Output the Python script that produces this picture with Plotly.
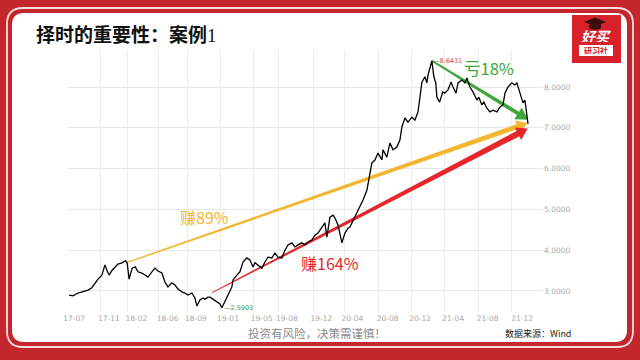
import plotly.graph_objects as go
import pandas as pd
import numpy as np

# ---------------- data ----------------
dates = [
    "2017-06-13", "2017-06-27", "2017-07-15", "2017-08-02", "2017-08-20", "2017-09-03", "2017-09-14",
    "2017-09-25", "2017-10-09", "2017-10-20", "2017-10-27", "2017-11-04", "2017-11-15", "2017-11-25",
    "2017-12-06", "2017-12-20", "2018-01-02", "2018-01-08", "2018-01-15", "2018-01-26", "2018-02-06",
    "2018-02-16", "2018-03-02", "2018-03-13", "2018-03-24", "2018-04-07", "2018-04-18", "2018-04-29",
    "2018-05-13", "2018-05-24", "2018-06-04", "2018-06-18", "2018-06-29", "2018-07-10", "2018-07-24",
    "2018-08-04", "2018-08-15", "2018-08-29", "2018-09-09", "2018-09-16", "2018-09-27", "2018-10-08",
    "2018-10-15", "2018-10-26", "2018-11-02", "2018-11-13", "2018-11-27", "2018-12-08", "2018-12-15",
    "2018-12-26", "2019-01-06", "2019-01-20", "2019-01-24", "2019-02-07", "2019-02-18", "2019-03-01",
    "2019-03-15", "2019-03-26", "2019-04-06", "2019-04-13", "2019-04-24", "2019-05-08", "2019-05-19",
    "2019-05-30", "2019-06-13", "2019-06-24", "2019-07-05", "2019-07-19", "2019-07-30", "2019-08-10",
    "2019-08-24", "2019-09-04", "2019-09-15", "2019-09-29", "2019-10-10", "2019-10-21", "2019-11-04",
    "2019-11-15", "2019-11-26", "2019-12-10", "2019-12-21", "2019-12-28", "2020-01-08", "2020-01-19",
    "2020-01-26", "2020-02-06", "2020-02-20", "2020-03-02", "2020-03-13", "2020-03-20", "2020-04-07",
    "2020-04-25", "2020-05-06", "2020-05-20", "2020-05-31", "2020-06-07", "2020-06-18", "2020-06-29",
    "2020-07-06", "2020-07-13", "2020-07-17", "2020-07-31", "2020-08-11", "2020-08-22", "2020-09-05",
    "2020-09-16", "2020-09-23", "2020-10-04", "2020-10-15", "2020-10-29", "2020-11-09", "2020-11-20",
    "2020-11-27", "2020-12-04", "2020-12-15", "2020-12-22", "2020-12-26", "2021-01-02", "2021-01-09",
    "2021-01-16", "2021-01-23", "2021-01-27", "2021-02-06", "2021-02-17", "2021-02-24", "2021-03-08",
    "2021-03-19", "2021-03-26", "2021-04-06", "2021-04-13", "2021-04-27", "2021-05-08", "2021-05-15",
    "2021-05-26", "2021-06-06", "2021-06-20", "2021-06-27", "2021-07-08", "2021-07-15", "2021-07-26",
    "2021-08-06", "2021-08-17", "2021-08-31", "2021-09-11", "2021-09-22", "2021-09-29", "2021-10-10",
    "2021-10-24", "2021-11-04", "2021-11-11", "2021-11-22", "2021-12-03", "2021-12-10", "2021-12-17",
    "2021-12-21",
]
nav = [
    2.90, 2.88, 2.95, 2.98, 3.02, 3.08, 3.20,
    3.29, 3.39, 3.64, 3.51, 3.39, 3.51, 3.59,
    3.66, 3.69, 3.74, 3.69, 3.29, 3.56, 3.59,
    3.47, 3.44, 3.39, 3.34, 3.47, 3.56, 3.49,
    3.44, 3.22, 3.10, 3.20, 3.15, 3.05, 2.98,
    2.95, 2.90, 2.95, 2.83, 2.63, 2.78, 2.83,
    2.80, 2.85, 2.85, 2.80, 2.72, 2.68, 2.5903,
    2.73, 2.90, 3.10, 3.27, 3.39, 3.47, 3.71,
    3.81, 3.76, 3.59, 3.69, 3.64, 3.56, 3.71,
    3.83, 3.81, 3.93, 3.83, 3.81, 4.00, 4.13,
    4.18, 4.08, 4.13, 4.18, 4.13, 4.20, 4.25,
    4.37, 4.42, 4.57, 4.67, 4.32, 4.81, 4.86,
    4.79, 4.62, 4.18, 4.42, 4.54, 4.57, 4.81,
    5.06, 5.23, 5.47, 5.89, 6.14, 6.21, 6.38,
    6.30, 6.21, 6.46, 6.28, 6.63, 6.46, 6.53,
    6.70, 7.02, 7.24, 7.14, 7.26, 7.19, 7.39,
    7.75, 8.12, 8.25, 8.10, 8.29, 8.49, 8.6431,
    8.25, 8.10, 7.75, 7.63, 7.88, 7.85, 7.93,
    8.12, 8.00, 7.85, 8.10, 8.17, 8.10, 8.22,
    8.00, 7.88, 7.68, 7.75, 7.56, 7.63, 7.48,
    7.39, 7.43, 7.39, 7.51, 7.56, 7.85, 8.00,
    8.10, 8.05, 8.10, 7.85, 7.61, 7.68, 7.31,
    7.10,
]

tick_dates = ["2017-07-01", "2017-11-03", "2018-02-10", "2018-06-03", "2018-09-12", "2019-01-06",
              "2019-05-07", "2019-08-06", "2019-12-08", "2020-03-29", "2020-08-03", "2020-11-28",
              "2021-03-26", "2021-07-29", "2021-11-30"]
tick_text = ["17-07", "17-11", "18-02", "18-06", "18-09", "19-01", "19-05", "19-08", "19-12",
             "20-04", "20-08", "20-12", "21-04", "21-08", "21-12"]
grid_dates = ["2017-10-03", "2018-01-10", "2018-04-29", "2018-08-12", "2018-12-09", "2019-04-06",
              "2019-07-05", "2019-11-08", "2020-03-02", "2020-06-29", "2020-10-29", "2021-02-24",
              "2021-06-24", "2021-10-24", "2022-02-13"]
y_ticks = [3, 4, 5, 6, 7, 8]

# arrows: (start date, start value, end date, end value)
arrow_names = ["yellow", "red", "green"]
arrow_start_dates = ["2018-01-08", "2018-11-10", "2021-01-09"]
arrow_start_vals = [3.70, 2.96, 8.6431]
arrow_end_dates = ["2021-12-20", "2021-12-20", "2021-12-22"]
arrow_end_vals = [7.12, 6.98, 7.20]

gain_labels = ["赚89%", "赚164%", "亏18%"]
gain_label_dates = ["2018-10-12", "2020-01-08", "2021-08-04"]
gain_label_vals = [4.81, 3.69, 8.47]
gain_label_sizes = [16, 16, 16.5]

# ---------------- layout geometry ----------------
W, H = 640, 360
ML, MR, MT, MB = 68, 97, 50, 48
PW, PH = W - ML - MR, H - MT - MB
XRANGE = ["2017-06-09", "2022-02-13"]
YRANGE = [2.485, 8.907]

RED_BG = "#c3262c"
YELLOW = "#f3b631"
RED = "#e6262b"
GREEN = "#3ea63a"

x0 = pd.Timestamp(XRANGE[0])
x1 = pd.Timestamp(XRANGE[1])
ms_per_px = (x1 - x0).total_seconds() * 1000 / PW
val_per_px = (YRANGE[1] - YRANGE[0]) / PH


def to_px(d, v):
    return np.array([(pd.Timestamp(d) - x0).total_seconds() * 1000 / ms_per_px,
                     (v - YRANGE[0]) / val_per_px])


def from_px(p):
    return x0 + pd.Timedelta(milliseconds=float(p[0] * ms_per_px)), YRANGE[0] + p[1] * val_per_px


def px_x(px):
    return (px - ML) / PW


def px_y(py):
    return (H - MB - py) / PH


fig = go.Figure()

# tapered arrows
arrow_style = {"yellow": (YELLOW, 1.3, 5.0, 11, 6.5),
               "red": (RED, 1.0, 6.0, 11, 7.0),
               "green": (GREEN, 2.0, 4.0, 12, 7.0)}
for name, sd, sv, ed, ev in zip(arrow_names, arrow_start_dates, arrow_start_vals,
                                arrow_end_dates, arrow_end_vals):
    col, w0, w1, hl, hw = arrow_style[name]
    S = to_px(sd, sv)
    E = to_px(ed, ev)
    u = (E - S) / np.linalg.norm(E - S)
    n = np.array([-u[1], u[0]])
    B = E - u * hl
    pts = [S + n * w0 / 2, B + n * w1 / 2, B + n * hw, E, B - n * hw, B - n * w1 / 2, S - n * w0 / 2]
    conv = [from_px(p) for p in pts]
    fig.add_trace(go.Scatter(x=[c[0] for c in conv] + [conv[0][0]],
                             y=[c[1] for c in conv] + [conv[0][1]],
                             mode="lines", fill="toself", fillcolor=col,
                             line=dict(width=0, color=col), hoverinfo="skip", showlegend=False))

# price line
fig.add_trace(go.Scatter(x=dates, y=nav, mode="lines", line=dict(color="#000000", width=1.3),
                         showlegend=False, hoverinfo="skip"))

# invisible trace on grid axis
fig.add_trace(go.Scatter(x=[XRANGE[0]], y=[YRANGE[0]], xaxis="x2", mode="markers",
                         marker=dict(opacity=0), showlegend=False, hoverinfo="skip"))

# ---------------- frame shapes ----------------
def rr_path(ax0, ay0, ax1, ay1, r):
    def P(px, py):
        return f"{px_x(px):.5f},{px_y(py):.5f}"
    return (f"M {P(ax0 + r, ay0)} L {P(ax1 - r, ay0)} Q {P(ax1, ay0)} {P(ax1, ay0 + r)} "
            f"L {P(ax1, ay1 - r)} Q {P(ax1, ay1)} {P(ax1 - r, ay1)} "
            f"L {P(ax0 + r, ay1)} Q {P(ax0, ay1)} {P(ax0, ay1 - r)} "
            f"L {P(ax0, ay0 + r)} Q {P(ax0, ay0)} {P(ax0 + r, ay0)} Z")


shapes = [
    dict(type="path", xref="paper", yref="paper", layer="below",
         path=rr_path(7, 8, 633, 347, 16), line=dict(color="#f6dcdc", width=1.8),
         fillcolor="rgba(0,0,0,0)"),
    dict(type="path", xref="paper", yref="paper", layer="below",
         path=rr_path(12, 13, 627, 342, 12), line=dict(color="#ffffff", width=0),
         fillcolor="#ffffff"),
    # logo square
    dict(type="rect", xref="paper", yref="paper", layer="above",
         x0=px_x(572), x1=px_x(621), y0=px_y(63), y1=px_y(15),
         fillcolor="#d8222b", line=dict(width=0)),
    dict(type="rect", xref="paper", yref="paper", layer="above",
         x0=px_x(579), x1=px_x(613), y0=px_y(56), y1=px_y(45),
         fillcolor="#ffffff", line=dict(width=0)),
    # graduation cap
    dict(type="path", xref="paper", yref="paper", layer="above",
         path=(f"M {px_x(584)},{px_y(22)} L {px_x(595)},{px_y(17.5)} L {px_x(606)},{px_y(22)} "
               f"L {px_x(595)},{px_y(26.5)} Z"),
         fillcolor="#3a0d0d", line=dict(width=0)),
    dict(type="path", xref="paper", yref="paper", layer="above",
         path=(f"M {px_x(589)},{px_y(24)} L {px_x(589)},{px_y(28.5)} Q {px_x(595)},{px_y(31)} "
               f"{px_x(601)},{px_y(28.5)} L {px_x(601)},{px_y(24)} L {px_x(595)},{px_y(26.5)} Z"),
         fillcolor="#3a0d0d", line=dict(width=0)),
]

annotations = [
    dict(xref="paper", yref="paper", x=px_x(34), y=px_y(34), xanchor="left", yanchor="middle",
         text="<b>择时的重要性：案例</b><span style=\"font-family:'Liberation Serif'\">1</span>",
         showarrow=False, font=dict(family="Noto Sans CJK SC", size=19, color="#111111")),
    dict(xref="paper", yref="paper", x=px_x(596.5), y=px_y(36), xanchor="center", yanchor="middle",
         text="<b><i>好买</i></b>", showarrow=False, height=12, borderpad=0,
         font=dict(family="Noto Sans CJK SC", size=14, color="#ffffff")),
    dict(xref="paper", yref="paper", x=px_x(596), y=px_y(50.5), xanchor="center", yanchor="middle",
         text="<b>研习社</b>", showarrow=False, height=8, borderpad=0,
         font=dict(family="Noto Sans CJK SC", size=8, color="#d8222b")),
    dict(xref="paper", yref="paper", x=px_x(317), y=px_y(333), xanchor="center", yanchor="middle",
         text="投资有风险，决策需谨慎！", showarrow=False,
         font=dict(family="Noto Sans CJK SC", size=11.5, color="#8a8a8a")),
    dict(xref="paper", yref="paper", x=px_x(503), y=px_y(333), xanchor="left", yanchor="middle",
         text="数据来源：Wind", showarrow=False,
         font=dict(family="Noto Sans CJK SC", size=9, color="#222222")),
]

for lab, d, v, col, sz in zip(gain_labels, gain_label_dates, gain_label_vals,
                              [YELLOW, RED, GREEN], gain_label_sizes):
    annotations.append(dict(x=d, y=v, xref="x", yref="y", text=lab, showarrow=False,
                            font=dict(family="Noto Sans CJK SC", size=sz, color=col)))

# max / min markers
imax = int(np.argmax(nav))
imin = int(np.argmin(nav))
annotations.append(dict(x=dates[imax], y=nav[imax], xref="x", yref="y", xanchor="left",
                        yanchor="middle", text="—%.4f" % nav[imax], showarrow=False, xshift=0,
                        borderpad=0, font=dict(family="DejaVu Sans", size=6.5, color="#c24a4a")))
annotations.append(dict(x=dates[imin], y=nav[imin], xref="x", yref="y", xanchor="left",
                        yanchor="middle", text="—%.4f" % nav[imin], showarrow=False, xshift=1,
                        borderpad=0, font=dict(family="DejaVu Sans", size=6.5, color="#3a9a3a")))

fig.update_layout(
    width=W, height=H, margin=dict(l=ML, r=MR, t=MT, b=MB),
    paper_bgcolor=RED_BG, plot_bgcolor="rgba(0,0,0,0)",
    showlegend=False, shapes=shapes, annotations=annotations,
    xaxis=dict(type="date", range=XRANGE, tickvals=tick_dates, ticktext=tick_text,
               showgrid=False, zeroline=False, showline=False, ticks="",
               tickfont=dict(family="DejaVu Sans", size=7.5, color="#a8a8a8")),
    xaxis2=dict(type="date", range=XRANGE, overlaying="x", tickvals=grid_dates,
                showticklabels=False, showgrid=True, gridcolor="#ececec", gridwidth=1,
                zeroline=False, ticks=""),
    yaxis=dict(range=YRANGE, side="right", tickvals=y_ticks, tickformat=".4f",
               showgrid=True, gridcolor="#e6e6e6", gridwidth=1, zeroline=False, ticks="",
               tickfont=dict(family="DejaVu Sans", size=7.5, color="#a8a8a8")),
)

fig.write_html("out.html", config={"displayModeBar": False},
               post_script="document.body.style.margin='0';document.body.style.background='%s';" % RED_BG)
